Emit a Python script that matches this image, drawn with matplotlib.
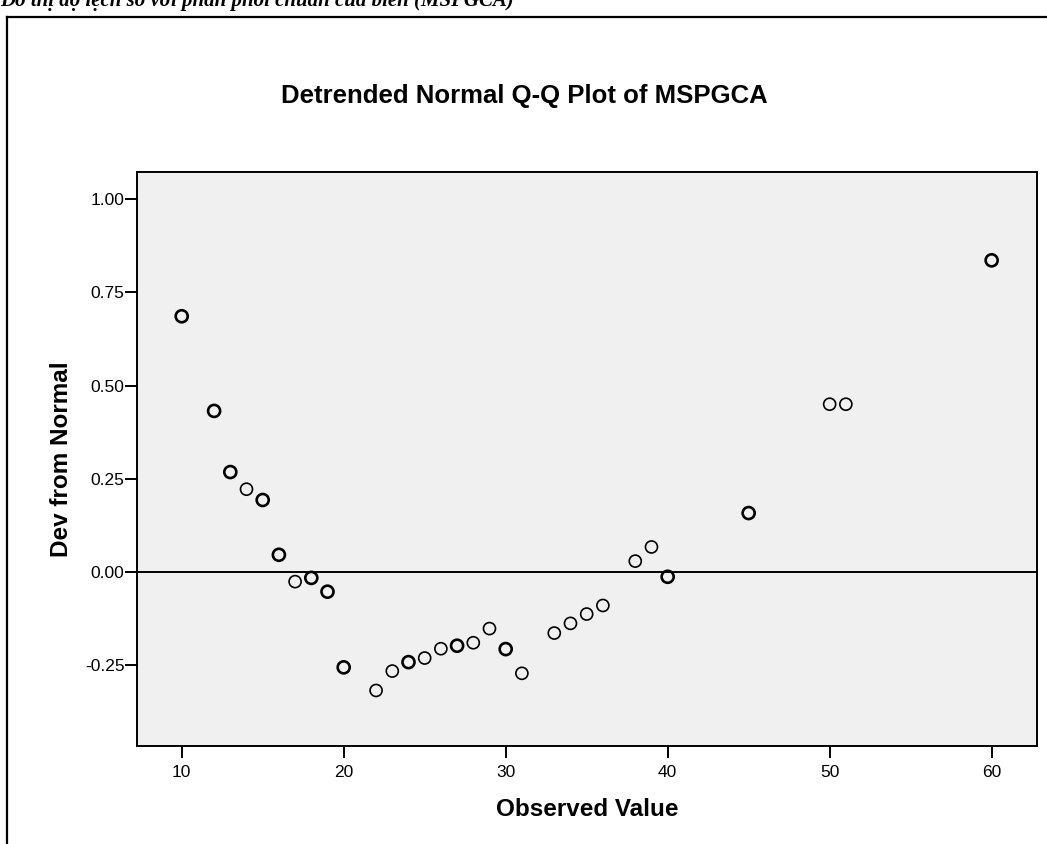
import matplotlib.pyplot as plt
from matplotlib.lines import Line2D

# Valori (Detrended Normal Q-Q Plot)
observed = [10, 12, 13, 14, 15, 16, 17, 18, 19, 20, 22, 23, 24, 25, 26, 27, 28,
            29, 30, 31, 33, 34, 35, 36, 38, 39, 40, 45, 50, 51, 60]
dev_from_normal = [0.686, 0.432, 0.268, 0.222, 0.193, 0.046, -0.026, -0.016,
                   -0.053, -0.256, -0.318, -0.266, -0.242, -0.231, -0.206,
                   -0.198, -0.190, -0.152, -0.207, -0.272, -0.164, -0.138,
                   -0.113, -0.090, 0.029, 0.067, -0.013, 0.158, 0.450, 0.450,
                   0.836]
# punti sovrapposti (cerchi piu' marcati)
repeated = [1, 1, 1, 0, 1, 1, 0, 1, 1, 1, 0, 0, 1, 0, 0, 1, 0,
            0, 1, 0, 0, 0, 0, 0, 0, 0, 1, 1, 0, 0, 1]

y_ticks = [-0.25, 0.00, 0.25, 0.50, 0.75, 1.00]
x_ticks = [10, 20, 30, 40, 50, 60]

plt.rcParams.update({
    "font.family": "sans-serif",
    "font.sans-serif": ["Liberation Sans", "DejaVu Sans"],
})

W, H = 1047, 844
fig = plt.figure(figsize=(W / 100, H / 100), dpi=100)
fig.patch.set_facecolor("white")

# cornice esterna (bordo sinistro e superiore)
fig.add_artist(Line2D([7 / W, 7 / W], [0, 1 - 17 / H], transform=fig.transFigure,
                      color="black", lw=1.6))
fig.add_artist(Line2D([7 / W, 1], [1 - 17 / H, 1 - 17 / H], transform=fig.transFigure,
                      color="black", lw=1.6))

# didascalia tagliata in alto
fig.text(0.0, 1 - 6 / H, "Đồ thị độ lệch so với phân phối chuẩn của biến (MSPGCA)",
         fontsize=15, fontstyle="italic", fontweight="bold",
         family=["Liberation Serif", "DejaVu Serif"], va="baseline", ha="left")

ax = fig.add_axes([137 / W, 98 / H, 900 / W, 574 / H])
ax.set_facecolor("#f0f0f0")

ax.axhline(0, color="black", lw=1.4, zorder=1)

thin_x = [x for x, r in zip(observed, repeated) if not r]
thin_y = [y for y, r in zip(dev_from_normal, repeated) if not r]
bold_x = [x for x, r in zip(observed, repeated) if r]
bold_y = [y for y, r in zip(dev_from_normal, repeated) if r]

ax.scatter(thin_x, thin_y, s=75, facecolors="none", edgecolors="black", linewidths=1.2, zorder=3)
ax.scatter(bold_x, bold_y, s=75, facecolors="none", edgecolors="black", linewidths=1.9, zorder=3)

ax.set_xlim(7.24, 62.8)
ax.set_ylim(-0.467, 1.073)
ax.set_xticks(x_ticks)
ax.set_yticks(y_ticks)
ax.set_yticklabels([f"{v:.2f}" for v in y_ticks])
ax.tick_params(axis="both", direction="out", length=8.5, width=1.4, color="black")
ax.tick_params(axis="y", pad=0.5, labelsize=12.5)
ax.tick_params(axis="x", pad=5, labelsize=12.5)

for s in ax.spines.values():
    s.set_linewidth(1.4)
    s.set_color("black")

# titolo e etichette degli assi
fig.text(524 / W, 1 - 96 / H, "Detrended Normal Q-Q Plot of MSPGCA",
         fontsize=18.5, fontweight="bold", ha="center", va="center")
fig.text(62 / W, 1 - 459 / H, "Dev from Normal", fontsize=17.5, fontweight="bold",
         rotation=90, ha="center", va="center")
fig.text(587 / W, 1 - 810 / H, "Observed Value", fontsize=17.5, fontweight="bold",
         ha="center", va="center")

plt.savefig("out.png", dpi=100)
plt.close()
